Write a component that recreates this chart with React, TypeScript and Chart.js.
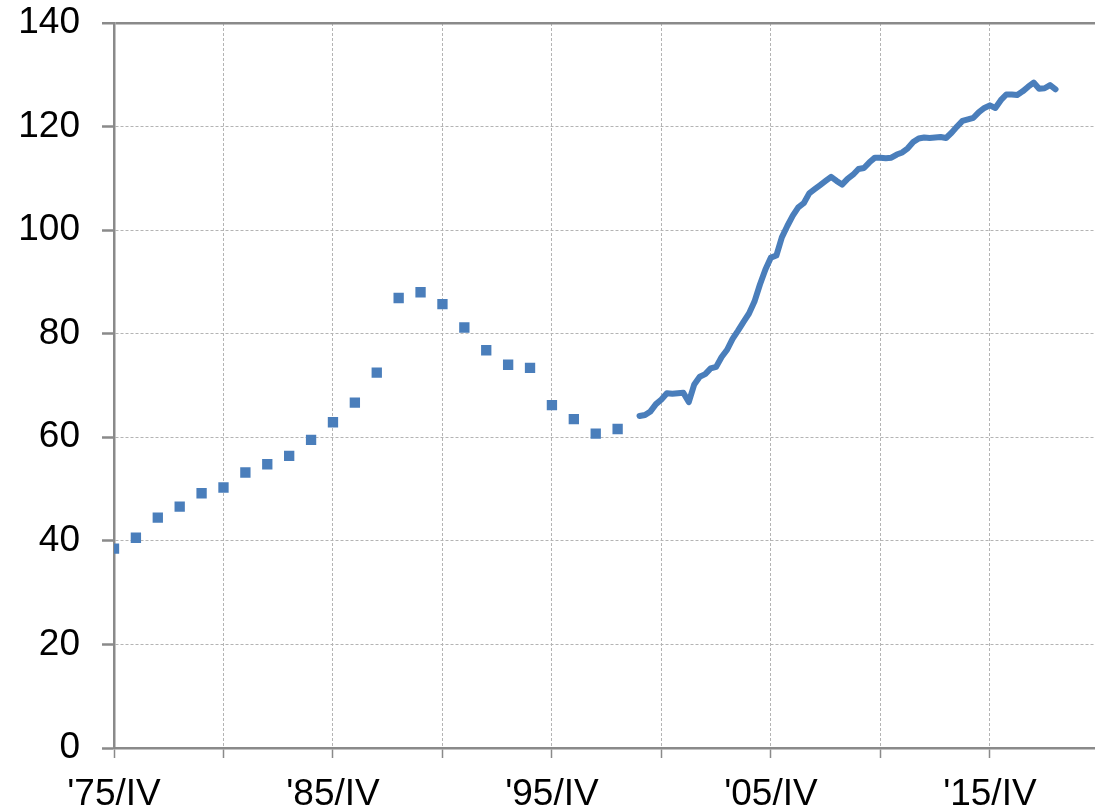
import React, { useEffect, useRef } from 'react';
import { Chart, registerables } from 'chart.js';

Chart.register(...registerables);

// Annual observations (fourth quarter of each year), 1975–1998
const annualYears = [
  1975, 1976, 1977, 1978, 1979, 1980, 1981, 1982, 1983, 1984, 1985, 1986,
  1987, 1988, 1989, 1990, 1991, 1992, 1993, 1994, 1995, 1996, 1997, 1998,
];
const annualValues = [
  38.5, 40.6, 44.5, 46.6, 49.2, 50.3, 53.2, 54.8, 56.4, 59.5, 62.9, 66.7,
  72.5, 86.9, 88.0, 85.7, 81.2, 76.8, 74.0, 73.4, 66.2, 63.5, 60.7, 61.6,
];

// Quarterly observations from 1999/IV to 2018/IV
const quarterlyStartYear = 1999;
const quarterlyStartQuarter = 4;
const quarterlyValues = [
  64.1, 64.3, 65.0, 66.4, 67.3, 68.5, 68.4, 68.5, 68.6, 66.8,
  70.2, 71.7, 72.2, 73.3, 73.6, 75.5, 76.9, 79.0, 80.6, 82.3,
  83.9, 86.2, 89.5, 92.4, 94.7, 95.1, 98.6, 100.8, 102.8, 104.4,
  105.2, 107.1, 107.9, 108.7, 109.5, 110.3, 109.5, 108.8, 109.9, 110.7,
  111.8, 112.0, 113.1, 114.0, 114.0, 113.9, 114.0, 114.6, 115.0, 115.8,
  117.0, 117.7, 117.9, 117.8, 117.9, 118.0, 117.8, 118.8, 120.0, 121.1,
  121.4, 121.7, 122.8, 123.6, 124.1, 123.6, 125.1, 126.2, 126.2, 126.1,
  126.8, 127.7, 128.5, 127.3, 127.4, 128.0, 127.2,
];

const xTickLabels = ["'75/IV", "'85/IV", "'95/IV", "'05/IV", "'15/IV"];
const xGridYears = [1975, 1980, 1985, 1990, 1995, 2000, 2005, 2010, 2015];
const yTickValues = [0, 20, 40, 60, 80, 100, 120, 140];

const BASE_YEAR = 1975;
const BASE_QUARTER = 4;
const quarterIndex = (year: number, q: number) => (year - BASE_YEAR) * 4 + (q - BASE_QUARTER);

const BLUE = '#4A7EBB';
const AXIS = '#8a8a8a';
const GRID = '#b4b4b4';
const FONT = "'Liberation Sans', Arial, sans-serif";

export default function App() {
  const canvasRef = useRef<HTMLCanvasElement | null>(null);

  useEffect(() => {
    const canvas = canvasRef.current;
    if (!canvas) return;

    const annualPoints = annualYears.map((y, i) => ({ x: quarterIndex(y, 4), y: annualValues[i] }));
    const qStart = quarterIndex(quarterlyStartYear, quarterlyStartQuarter);
    const quarterlyPoints = quarterlyValues.map((v, i) => ({ x: qStart + i, y: v }));
    const gridTicks = xGridYears.map((y) => quarterIndex(y, 4));

    const chart = new Chart(canvas, {
      type: 'line',
      data: {
        datasets: [
          {
            label: 'annual',
            data: annualPoints,
            showLine: false,
            pointStyle: 'rect',
            pointRadius: 7.3,
            pointHoverRadius: 7.3,
            pointBackgroundColor: BLUE,
            pointBorderColor: BLUE,
            pointBorderWidth: 0,
            borderColor: BLUE,
            backgroundColor: BLUE,
          },
          {
            label: 'quarterly',
            data: quarterlyPoints,
            borderColor: BLUE,
            backgroundColor: BLUE,
            borderWidth: 6,
            pointRadius: 0,
            tension: 0,
            borderCapStyle: 'round',
            borderJoinStyle: 'round',
          },
        ],
      },
      options: {
        animation: false,
        responsive: true,
        maintainAspectRatio: false,
        layout: { padding: { top: 23, right: 0, bottom: 0, left: 0 } },
        plugins: {
          legend: { display: false },
          title: { display: false },
          tooltip: { enabled: false },
        },
        scales: {
          x: {
            type: 'linear',
            min: 0,
            max: 179.7,
            afterBuildTicks: (scale: any) => {
              scale.ticks = gridTicks.map((v) => ({ value: v }));
            },
            afterFit: (scale: any) => {
              scale.height = 61;
              scale.paddingLeft = 0;
              scale.paddingRight = 0;
            },
            ticks: {
              autoSkip: false,
              maxRotation: 0,
              minRotation: 0,
              padding: 15,
              color: '#000',
              font: { size: 37, family: FONT },
              callback: (value: any) => {
                const v = Number(value);
                return v % 40 === 0 ? xTickLabels[v / 40] : '';
              },
            },
            grid: {
              color: GRID,
              lineWidth: 1,
              tickLength: 10,
              tickColor: AXIS,
              tickWidth: 1.5,
              drawTicks: true,
            },
            border: { display: true, color: AXIS, width: 2.5, dash: [3, 2] },
          },
          y: {
            type: 'linear',
            min: 0,
            max: 140,
            afterBuildTicks: (scale: any) => {
              scale.ticks = yTickValues.map((v) => ({ value: v }));
            },
            afterFit: (scale: any) => {
              scale.width = 114;
              scale.paddingTop = 0;
              scale.paddingBottom = 0;
            },
            ticks: {
              padding: 22,
              color: '#000',
              font: { size: 37, family: FONT },
            },
            grid: {
              color: (ctx: any) => (ctx.tick && ctx.tick.value === 140 ? AXIS : GRID),
              lineWidth: (ctx: any) => (ctx.tick && ctx.tick.value === 140 ? 2.5 : 1),
              tickLength: 12,
              tickColor: AXIS,
              tickWidth: 2.5,
            },
            border: {
              display: true,
              color: AXIS,
              width: 2.5,
              dash: (ctx: any) => (ctx.tick && ctx.tick.value === 140 ? [] : [3, 2]),
            },
          },
        },
      },
    });

    return () => {
      chart.destroy();
    };
  }, []);

  return (
    <div style={{ position: 'fixed', left: 0, top: 0, width: 1105, height: 809, background: '#fff' }}>
      <canvas ref={canvasRef} />
    </div>
  );
}
